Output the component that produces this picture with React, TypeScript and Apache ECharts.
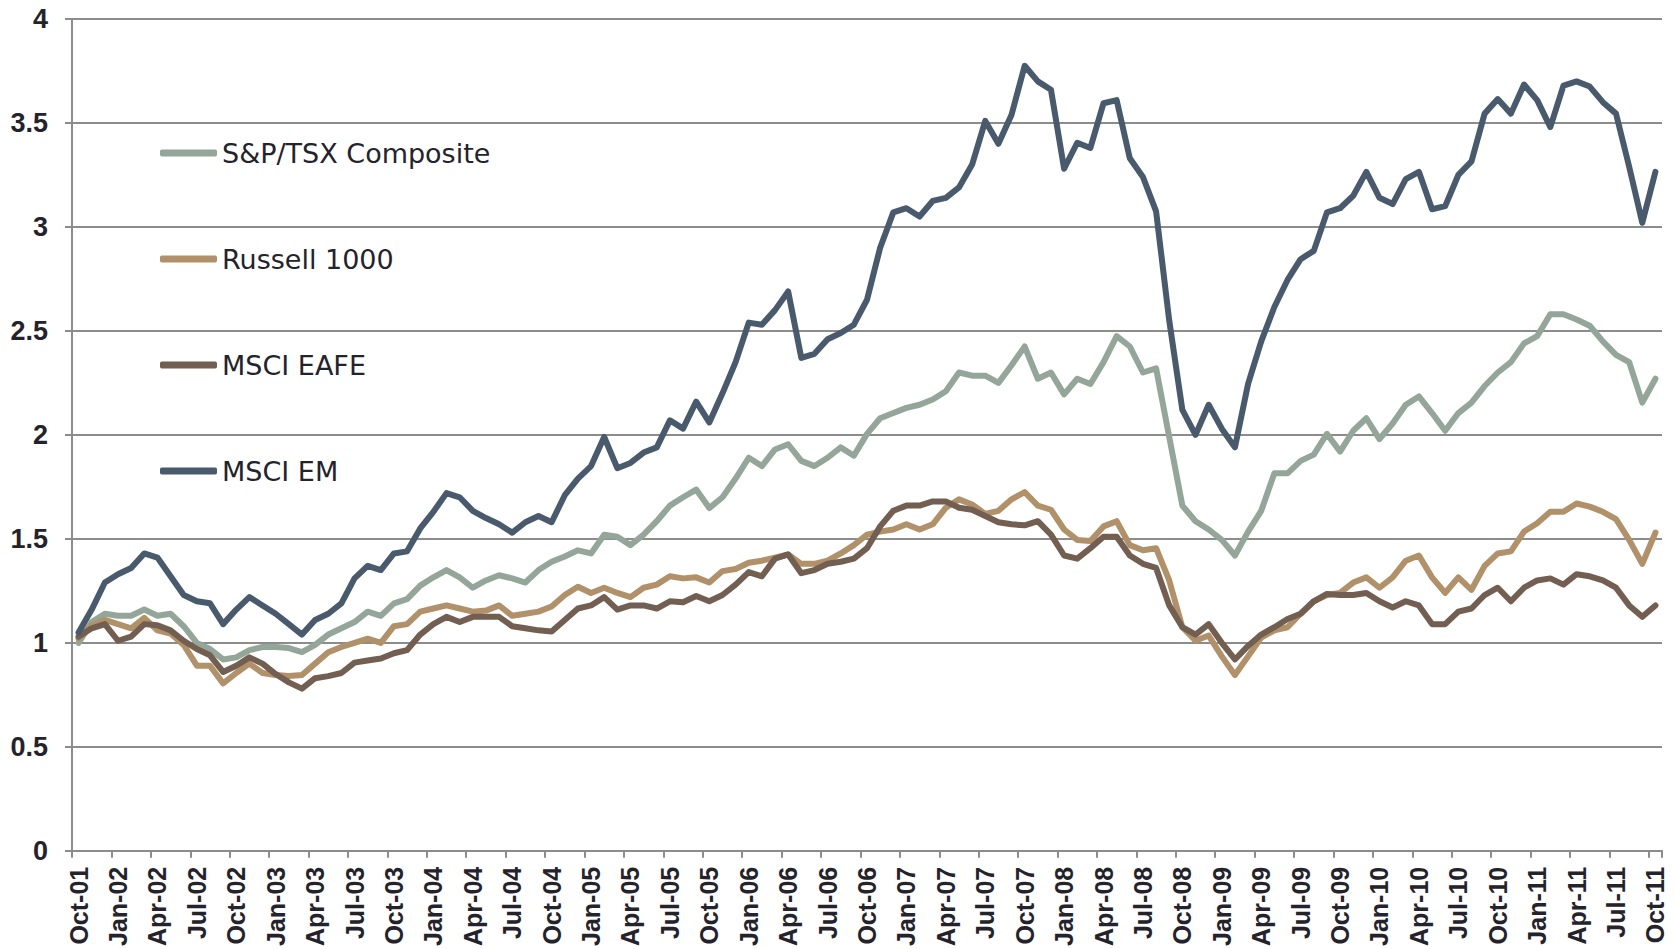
import React, { useEffect, useRef } from "react";
import * as echarts from "echarts";

const MONTHS = ["Jan", "Feb", "Mar", "Apr", "May", "Jun", "Jul", "Aug", "Sep", "Oct", "Nov", "Dec"];
// Oct-01 .. Oct-11, monthly
const categories: string[] = [];
for (let k = 0; k < 121; k++) {
  const m = (9 + k) % 12;
  const y = 1 + Math.floor((9 + k) / 12);
  categories.push(`${MONTHS[m]}-${String(y).padStart(2, "0")}`);
}

const seriesNames = ["S&P/TSX Composite", "Russell 1000", "MSCI EAFE", "MSCI EM"];

const tsx = [
  1.0, 1.1, 1.14, 1.13, 1.13, 1.16, 1.13, 1.14, 1.08, 1.0, 0.97, 0.92, 0.93, 0.965, 0.98, 0.98, 0.975, 0.955, 0.99, 1.04,
  1.07, 1.1, 1.15, 1.13, 1.19, 1.21, 1.275, 1.315, 1.35, 1.315, 1.265, 1.3, 1.325, 1.31, 1.29, 1.35, 1.39, 1.415, 1.445, 1.43,
  1.52, 1.51, 1.47, 1.52, 1.585, 1.66, 1.7, 1.737, 1.648, 1.7, 1.79, 1.89, 1.85, 1.93, 1.955, 1.875, 1.85, 1.89, 1.94, 1.9,
  2.005, 2.08, 2.105, 2.13, 2.145, 2.17, 2.21, 2.3, 2.285, 2.285, 2.25, 2.335, 2.425, 2.27, 2.3, 2.195, 2.27, 2.245, 2.35, 2.475,
  2.425, 2.3, 2.32, 1.99, 1.66, 1.585, 1.545, 1.495, 1.42, 1.535, 1.635, 1.815, 1.815, 1.875, 1.905, 2.005, 1.92, 2.02, 2.08, 1.98,
  2.055, 2.145, 2.185, 2.105, 2.02, 2.105, 2.155, 2.235, 2.3, 2.35, 2.44, 2.475, 2.58, 2.58, 2.555, 2.525, 2.45, 2.385, 2.35, 2.155,
  2.27,
];

const russell = [
  1.02, 1.085, 1.11, 1.09, 1.07, 1.12, 1.06, 1.045, 0.99, 0.89, 0.89, 0.805, 0.855, 0.9, 0.855, 0.845, 0.84, 0.845, 0.9, 0.955,
  0.98, 1.0, 1.02, 1.0, 1.08, 1.09, 1.15, 1.165, 1.18, 1.165, 1.15, 1.155, 1.18, 1.13, 1.14, 1.15, 1.175, 1.23, 1.27, 1.24,
  1.265, 1.24, 1.22, 1.265, 1.28, 1.32, 1.31, 1.315, 1.29, 1.345, 1.355, 1.385, 1.395, 1.41, 1.425, 1.38, 1.38, 1.395, 1.43, 1.47,
  1.52, 1.535, 1.545, 1.57, 1.545, 1.57, 1.65, 1.69, 1.665, 1.62, 1.635, 1.69, 1.725, 1.66, 1.64, 1.545, 1.495, 1.49, 1.56, 1.585,
  1.47, 1.445, 1.455, 1.3, 1.075, 1.01, 1.035, 0.935, 0.845, 0.935, 1.025, 1.06, 1.075, 1.14, 1.2, 1.23, 1.24, 1.29, 1.315, 1.265,
  1.315, 1.395, 1.42, 1.315, 1.24, 1.315, 1.255, 1.37, 1.43, 1.44, 1.535, 1.575, 1.63, 1.63, 1.67, 1.655, 1.63, 1.595, 1.495, 1.38,
  1.53,
];

const eafe = [
  1.03, 1.07, 1.09, 1.01, 1.03, 1.09, 1.085, 1.06, 1.01, 0.97, 0.94, 0.86, 0.89, 0.93, 0.9, 0.85, 0.81, 0.78, 0.83, 0.84,
  0.855, 0.905, 0.915, 0.925, 0.95, 0.965, 1.04, 1.09, 1.125, 1.1, 1.125, 1.125, 1.125, 1.08, 1.07, 1.06, 1.055, 1.11, 1.165, 1.18,
  1.22, 1.16, 1.18, 1.18, 1.165, 1.2, 1.195, 1.225, 1.2, 1.23, 1.28, 1.34, 1.32, 1.405, 1.425, 1.335, 1.35, 1.38, 1.39, 1.405,
  1.455, 1.56, 1.635, 1.66, 1.66, 1.68, 1.68, 1.65, 1.64, 1.61, 1.58, 1.57, 1.565, 1.585, 1.52, 1.42, 1.405, 1.455, 1.51, 1.51,
  1.42, 1.38, 1.36, 1.18, 1.075, 1.04, 1.09, 1.0, 0.92, 0.985, 1.04, 1.075, 1.115, 1.14, 1.2, 1.235, 1.23, 1.23, 1.24, 1.2,
  1.17, 1.2, 1.18, 1.09, 1.09, 1.15, 1.165, 1.23, 1.265, 1.2, 1.265, 1.3, 1.31, 1.28, 1.33, 1.32, 1.3, 1.265, 1.18, 1.125,
  1.18,
];

const em = [
  1.05, 1.16, 1.29, 1.33, 1.36, 1.43, 1.41, 1.32, 1.23, 1.2, 1.19, 1.09, 1.16, 1.22, 1.18, 1.14, 1.09, 1.04, 1.11, 1.14,
  1.19, 1.31, 1.37, 1.35, 1.43, 1.44, 1.55, 1.63, 1.72, 1.7, 1.635, 1.6, 1.57, 1.53, 1.58, 1.61, 1.58, 1.71, 1.79, 1.85,
  1.99, 1.84, 1.865, 1.915, 1.94, 2.07, 2.03, 2.16, 2.06, 2.2, 2.35, 2.54, 2.53, 2.6, 2.69, 2.37, 2.39, 2.46, 2.49, 2.53,
  2.65, 2.9, 3.07, 3.09, 3.05, 3.125, 3.14, 3.19, 3.3, 3.51, 3.4, 3.54, 3.775, 3.7, 3.66, 3.28, 3.405, 3.38, 3.595, 3.61,
  3.33, 3.24, 3.075, 2.55, 2.12, 2.0, 2.145, 2.03, 1.94, 2.245, 2.45, 2.615, 2.745, 2.845, 2.885, 3.07, 3.09, 3.15, 3.265, 3.14,
  3.11, 3.23, 3.265, 3.085, 3.1, 3.25, 3.315, 3.545, 3.615, 3.545, 3.685, 3.61, 3.48, 3.68, 3.7, 3.675, 3.6, 3.545, 3.29, 3.02,
  3.265,
];

const seriesValues = [tsx, russell, eafe, em];
const colors = ["#94a699", "#b0916a", "#735f51", "#485a6c"];

export default function App() {
  const ref = useRef<HTMLDivElement>(null);

  useEffect(() => {
    if (!ref.current) return;
    const chart = echarts.init(ref.current, undefined, { renderer: "svg" });
    const gray = "#8c8c8c";
    chart.setOption({
      animation: false,
      backgroundColor: "#ffffff",
      grid: { left: 72, right: 13, top: 19, bottom: 98, containLabel: false },
      legend: {
        orient: "vertical",
        left: 160,
        top: 138,
        padding: 0,
        itemWidth: 57,
        itemHeight: 7,
        itemGap: 76,
        icon: "roundRect",
        data: seriesNames,
        textStyle: {
          fontFamily: "DejaVu Sans",
          fontSize: 27,
          lineHeight: 30,
          color: "#24232b",
        },
      },
      xAxis: {
        type: "category",
        data: categories,
        boundaryGap: true,
        axisLine: { show: true, lineStyle: { color: gray, width: 2 } },
        axisTick: { show: true, interval: 2, length: 7, alignWithLabel: false, lineStyle: { color: gray, width: 2 } },
        axisLabel: {
          interval: 2,
          rotate: 90,
          margin: 16,
          fontFamily: "Liberation Sans",
          fontWeight: "bold",
          fontSize: 25,
          color: "#24232b",
        },
        splitLine: { show: false },
      },
      yAxis: {
        type: "value",
        min: 0,
        max: 4,
        interval: 0.5,
        axisLine: { show: true, lineStyle: { color: gray, width: 2 } },
        axisTick: { show: true, length: 7, lineStyle: { color: gray, width: 2 } },
        axisLabel: {
          margin: 24,
          fontFamily: "Liberation Sans",
          fontWeight: "bold",
          fontSize: 27,
          color: "#24232b",
        },
        splitLine: { show: true, lineStyle: { color: gray, width: 2 } },
      },
      series: seriesNames.map((name, k) => ({
        name,
        type: "line",
        data: seriesValues[k],
        showSymbol: false,
        symbol: "none",
        smooth: false,
        color: colors[k],
        itemStyle: { color: colors[k] },
        lineStyle: { color: colors[k], width: 6, cap: "round", join: "round" },
        z: 2 + k,
      })),
    });
    return () => chart.dispose();
  }, []);

  return (
    <div
      ref={ref}
      style={{ position: "fixed", left: 0, top: 0, width: 1675, height: 949, background: "#fff" }}
    />
  );
}
